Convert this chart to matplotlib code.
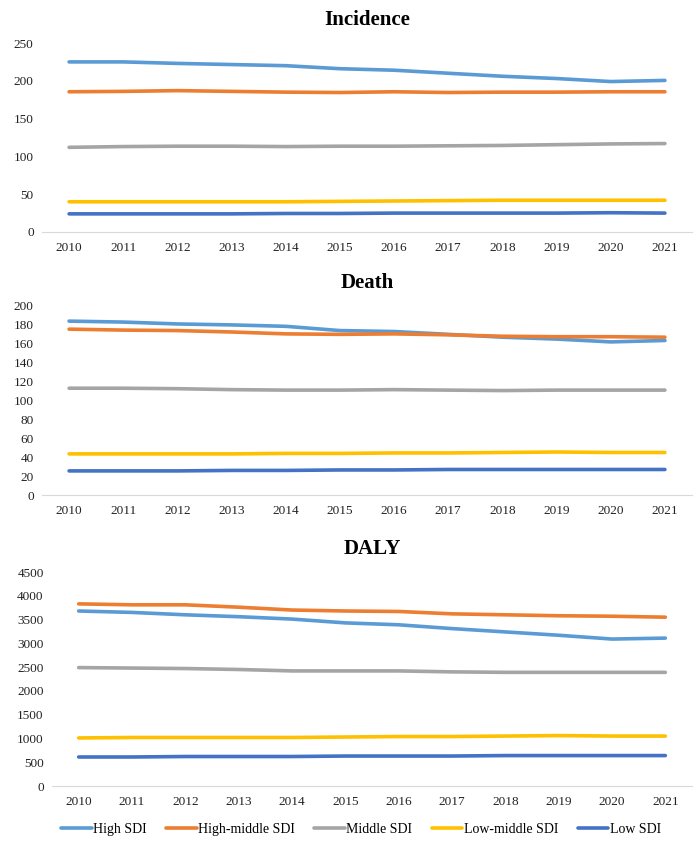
import matplotlib.pyplot as plt

plt.rcParams['font.family'] = ['Liberation Serif', 'DejaVu Serif']

years = ['2010', '2011', '2012', '2013', '2014', '2015', '2016', '2017', '2018', '2019', '2020', '2021']
labels = ['High SDI', 'High-middle SDI', 'Middle SDI', 'Low-middle SDI', 'Low SDI']
colors = ['#5B9BD5', '#ED7D31', '#A5A5A5', '#FFC000', '#4472C4']

# Incidence
inc_high = [225, 225, 223, 221.5, 220, 216, 214, 210, 206, 203, 199, 200.5]
inc_highmid = [185.5, 186, 187, 186, 185, 184.5, 185.5, 184.5, 185, 185, 185.5, 185.5]
inc_mid = [112, 113, 113.5, 113.5, 113, 113.5, 113.5, 114, 114.5, 115.5, 116.5, 117]
inc_lowmid = [40, 40, 40, 40, 40, 40.5, 41, 41.5, 42, 42, 42, 42]
inc_low = [24, 24, 24, 24, 24.5, 24.5, 25, 25, 25, 25, 25.5, 25]

# Death
death_high = [184, 183, 181, 180, 178.5, 174, 173, 170, 167, 165, 162, 163.5]
death_highmid = [175.5, 174.5, 174, 172.5, 170.5, 170, 170.5, 169.5, 168, 167.5, 167.5, 167]
death_mid = [113, 113, 112.5, 111.5, 111, 111, 111.5, 111, 110.5, 111, 111, 111]
death_lowmid = [43.5, 43.5, 43.5, 43.5, 44, 44, 44.5, 44.5, 45, 45.5, 45, 45]
death_low = [25.5, 25.5, 25.5, 26, 26, 26.5, 26.5, 27, 27, 27, 27, 27]

# DALY
daly_high = [3680, 3650, 3600, 3560, 3510, 3430, 3390, 3310, 3240, 3170, 3090, 3110]
daly_highmid = [3830, 3810, 3810, 3760, 3700, 3680, 3670, 3620, 3600, 3580, 3570, 3550]
daly_mid = [2490, 2480, 2470, 2450, 2420, 2420, 2420, 2400, 2390, 2390, 2390, 2390]
daly_lowmid = [1010, 1020, 1020, 1020, 1020, 1030, 1040, 1040, 1050, 1060, 1050, 1050]
daly_low = [610, 610, 620, 620, 620, 630, 630, 630, 640, 640, 640, 640]

panels = [
    ('Incidence', [inc_high, inc_highmid, inc_mid, inc_lowmid, inc_low], 250, 50,
     [42 / 694, 1 - 232 / 846, 650 / 694, 189 / 846]),
    ('Death', [death_high, death_highmid, death_mid, death_lowmid, death_low], 200, 20,
     [42 / 694, 1 - 495 / 846, 650 / 694, 189 / 846]),
    ('DALY', [daly_high, daly_highmid, daly_mid, daly_lowmid, daly_low], 4500, 500,
     [52 / 694, 1 - 786 / 846, 640 / 694, 214 / 846]),
]

fig = plt.figure(figsize=(6.94, 8.46), dpi=100)
x = range(len(years))
for title, series, ymax, step, pos in panels:
    ax = fig.add_axes(pos)
    for vals, lab, c in zip(series, labels, colors):
        ax.plot(x, vals, color=c, lw=2.6, label=lab, solid_capstyle='round')
    ax.set_xlim(-0.5, len(years) - 0.5)
    ax.set_ylim(0, ymax)
    ax.set_yticks(range(0, ymax + 1, step))
    ax.set_xticks(list(x))
    ax.set_xticklabels(years)
    ax.tick_params(length=0, labelsize=9.5, colors='#222222')
    ax.tick_params(axis='x', pad=7)
    ax.tick_params(axis='y', pad=6)
    for s in ['top', 'right', 'left']:
        ax.spines[s].set_visible(False)
    ax.spines['bottom'].set_color('#d9d9d9')
    ax.set_title(title, fontsize=15, fontweight='bold', pad=13)

handles, labs = ax.get_legend_handles_labels()
fig.legend(handles, labs, loc='center', bbox_to_anchor=(0.52, 1 - 829 / 846), ncol=5,
           frameon=False, fontsize=10, handlelength=2.2, handletextpad=0.1, columnspacing=1.4)

plt.savefig('out.png', dpi=100)
